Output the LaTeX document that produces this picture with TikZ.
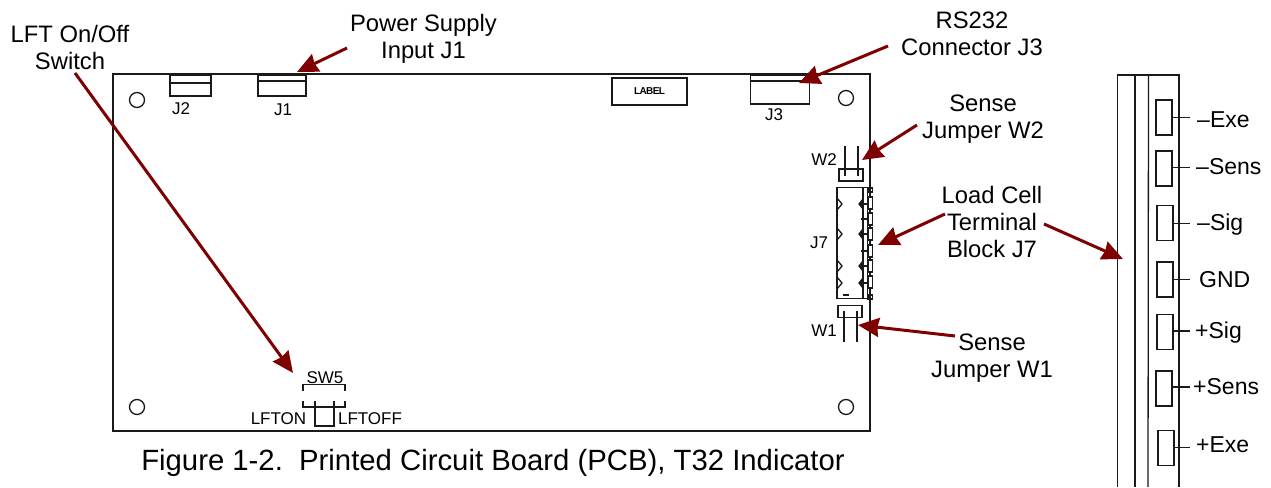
\documentclass[tikz,border=0pt]{standalone}
\usepackage{fontspec}
\setmainfont{Liberation Sans}
\usetikzlibrary{arrows.meta}
\definecolor{arrowred}{HTML}{7F0000}
\definecolor{ink}{HTML}{1A1A1A}
\tikzset{
  x=1pt,y=-1pt,
  line/.style={draw=ink,line width=1.3pt},
  part/.style={draw=ink,line width=1.3pt,rectangle,inner sep=0pt,outer sep=0pt},
  hole/.style={draw=ink,line width=1.3pt,circle,minimum size=15pt,inner sep=0pt},
  callout/.style={draw=arrowred,line width=3pt,-{Stealth[inset=1.5pt,length=21pt,width=19pt]}},
  big/.style={font=\fontsize{23.8}{27.3}\selectfont,align=center,inner sep=0pt,text=black},
  small/.style={font=\fontsize{17}{20}\selectfont,inner sep=0pt,text=black},
  term/.style={font=\fontsize{23}{26}\selectfont,inner sep=0pt,anchor=base west,text=black},
  termbox/.style={part,minimum width=16pt,minimum height=35pt},
}
\begin{document}
\begin{tikzpicture}
\useasboundingbox (0,0) rectangle (1271,487);
% board
\node[part,minimum width=757pt,minimum height=357pt] (board) at (491.5,252.5) {};
\node[hole] (h1) at (137,100) {};
\node[hole] (h2) at (846,98) {};
\node[hole] (h3) at (137,407) {};
\node[hole] (h4) at (846,407) {};
% J2
\node[part,minimum width=41pt,minimum height=21pt] (j2) at (190.5,85.5) {};
\draw[line] (j2.west |- 0,83) -- (j2.east |- 0,83);
\node[small] (j2t) at (181,109) {J2};
% J1
\node[part,minimum width=48pt,minimum height=21pt] (j1) at (282,85.5) {};
\draw[line,line width=2pt] (j1.west |- 0,81) -- (j1.east |- 0,81);
\draw[line,line width=2pt] (j1.north west) -- (j1.north east);
\node[small] (j1t) at (283,110) {J1};
% label box
\node[part,minimum width=75pt,minimum height=27pt,font=\fontsize{10}{11}\selectfont\bfseries] (lab) at (649.5,91.5) {\addfontfeature{LetterSpace=-6}LABEL};
% J3
\node[part,minimum width=59pt,minimum height=29pt] (j3) at (780,89.5) {};
\draw[line,line width=2pt] (j3.north west) -- (j3.north east);
\draw[line] (j3.west |- 0,81) -- (j3.east |- 0,81);
\node[small] (j3t) at (774,115) {J3};
% W2
\node[part,minimum width=24pt,minimum height=12pt] (w2) at (851,175) {};
\coordinate (w2a) at (845,146); \coordinate (w2b) at (858,146);
\draw[line] (w2a) -- (845,176); \draw[line] (w2b) -- (858,176);
\node[small] (w2t) at (824,160) {W2};
% J7
\node[part,minimum width=26pt,minimum height=111pt] (j7) at (850,243) {};
\draw[line] (867.5,187.5) -- (867.5,298.5);
\draw[line] (j7.north east) -- (870,187.5);
\draw[line] (j7.south east) -- (870,298.5);
\node[small] (j7t) at (819,243) {J7};
\foreach \y in {204,234,266,283}{
  \draw[line] (837,\y-6) -- (842,\y) -- (837,\y+6);
  \draw[line,fill=ink] (863,\y-5) -- (859,\y) -- (863,\y+5) -- cycle;
  \draw[line] (863,\y) -- (868,\y);
}
\foreach \y in {219,251}{\draw[line] (861,\y) -- (868,\y);}
\foreach \y in {203,219,234,251,266,282}{\draw[line,fill=white] (868,\y-6) rectangle (872.5,\y+6);}
\foreach \y in {190,297}{\draw[line] (868,\y-2) rectangle (872.5,\y+2);}
\draw[line] (843,295) -- (849,295);
% W1
\node[part,minimum width=24pt,minimum height=12pt] (w1) at (850,311.5) {};
\coordinate (w1a) at (844,342); \coordinate (w1b) at (857,342);
\draw[line] (844,311) -- (w1a); \draw[line] (857,311) -- (w1b);
\node[small] (w1t) at (824,331) {W1};
% SW5
\node[small] (sw5) at (325,378) {SW5};
\coordinate (sa) at (303,391); \coordinate (sb) at (345,391);
\draw[line] (sa) -- (303,384.5) -- (345,384.5) -- (sb);
\draw[line] (303,401) -- (303,407) -- (345,407) -- (345,401);
\draw[line] (315,401) -- (315,426) -- (334,426) -- (334,401);
\node[small] (lfton) at (278.5,419) {LFTON};
\node[small] (lftoff) at (370,419) {LFTOFF};
% terminal strip
\coordinate (s1t) at (1117.5,75); \coordinate (s1b) at (1117.5,487);
\coordinate (s2t) at (1135,75); \coordinate (s2b) at (1135,487);
\coordinate (s3t) at (1148.5,75); \coordinate (s3b) at (1148,487);
\coordinate (s4t) at (1179,75); \coordinate (s4b) at (1179,487);
\draw[line] (s1b) -- (s1t) -- (s4t) -- (s4b);
\draw[line] (s2t) -- (s2b);
\draw[line] (s3t) -- (s3b);
\node[termbox] (t1) at (1164,117.5) {};
\node[termbox] (t2) at (1164,168.5) {};
\node[termbox] (t3) at (1165,223) {};
\node[termbox] (t4) at (1165,279.5) {};
\node[termbox] (t5) at (1165,332) {};
\node[termbox] (t6) at (1164,388.5) {};
\node[termbox] (t7) at (1166,448) {};
\coordinate (l1) at (1190,117.5); \coordinate (l2) at (1190,167.5);
\coordinate (l3) at (1190,223.5); \coordinate (l4) at (1190,279.5);
\coordinate (l5) at (1190,331); \coordinate (l6) at (1190,387);
\coordinate (l7) at (1190,447.5);
\foreach \i in {1,...,7}{\draw[line] (t\i.east |- l\i) -- (l\i);}
\node[term] (n1) at (1197,127) {–Exe};
\node[term] (n2) at (1196,174) {–Sens};
\node[term] (n3) at (1197,230) {–Sig};
\node[term] (n4) at (1199,287) {GND};
\node[term] (n5) at (1195,338) {+Sig};
\node[term] (n6) at (1193,394) {+Sens};
\node[term] (n7) at (1196,452) {+Exe};
% labels
\node[big] (lLFT) at (70,47.5) {LFT On/Off\\Switch};
\node[big] (lPS) at (423.5,38.5) {Power Supply\\Input J1};
\node[big] (lRS) at (972,34) {RS232\\Connector J3};
\node[big] (lW2) at (983,119.5) {Sense\\Jumper W2};
\node[big] (lLC) at (992,222) {Load Cell\\Terminal\\Block J7};
\node[big] (lW1) at (992,358) {Sense\\Jumper W1};
\node[font=\fontsize{29.3}{32}\selectfont,inner sep=0pt] (cap) at (493,463) {Figure 1-2.\ \ Printed Circuit Board (PCB), T32 Indicator};
% callouts
\coordinate (aLs) at (75,73);   \coordinate (aLe) at (293,373);
\coordinate (aPs) at (347,48);  \coordinate (aPe) at (297,72);
\coordinate (aRs) at (888,46);  \coordinate (aRe) at (799,83);
\coordinate (aWs) at (917,125); \coordinate (aWe) at (862,160);
\coordinate (aJs) at (945,214); \coordinate (aJe) at (878,245);
\coordinate (aCs) at (1044,224);\coordinate (aCe) at (1123,259);
\coordinate (aVs) at (955,336); \coordinate (aVe) at (858,325);
\draw[callout] (aLs) -- (aLe);
\draw[callout] (aPs) -- (aPe);
\draw[callout] (aRs) -- (aRe);
\draw[callout] (aWs) -- (aWe);
\draw[callout] (aJs) -- (aJe);
\draw[callout] (aCs) -- (aCe);
\draw[callout] (aVs) -- (aVe);
\end{tikzpicture}
\end{document}
